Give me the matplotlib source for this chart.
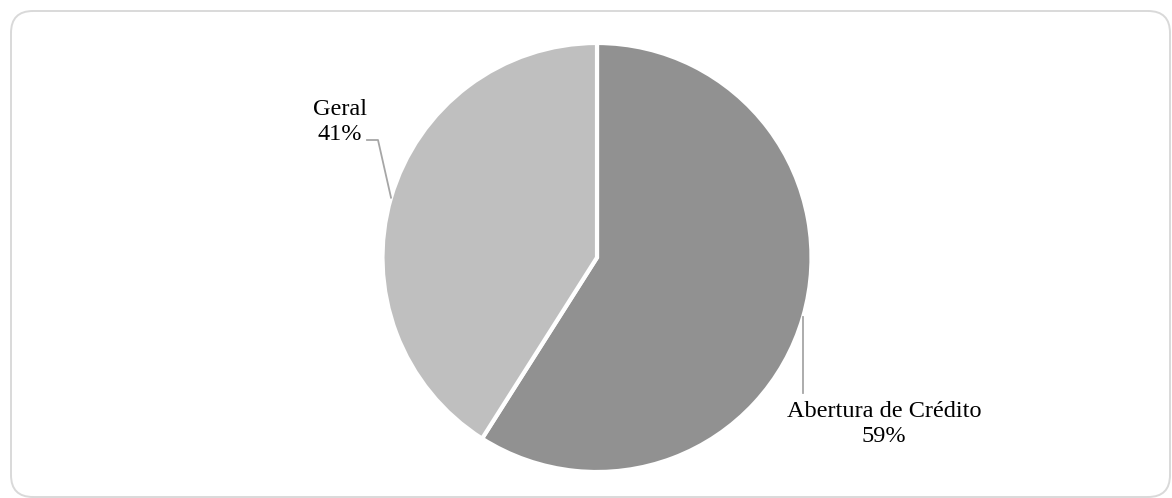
import numpy as np
import matplotlib.pyplot as plt
from matplotlib.patches import FancyBboxPatch

labels = ['Abertura de Crédito', 'Geral']
shares = [59, 41]
colors = ['#919191', '#bfbfbf']

W, H = 1172, 498
plt.rcParams['font.family'] = ['Liberation Serif', 'DejaVu Serif']

fig = plt.figure(figsize=(W / 100, H / 100), dpi=100)
ax = fig.add_axes([0, 0, 1, 1])

# rounded frame
frame = FancyBboxPatch((11, 1), 1159, 486, boxstyle='round,pad=0,rounding_size=22',
                       fc='none', ec='#d9d9d9', lw=1.4)
ax.add_patch(frame)

cx, cy, r = 597, 240.5, 214.5
wedges, _ = ax.pie(shares, colors=colors, startangle=90, counterclock=False,
                   center=(cx, cy), radius=r, frame=True,
                   wedgeprops=dict(edgecolor='white', linewidth=3))
ax.set_xlim(0, W)
ax.set_ylim(0, H)
ax.set_aspect('equal')
ax.axis('off')

# leader lines from wedge midpoints, then labels
lead = '#a6a6a6'
for w, lab, val in zip(wedges, labels, shares):
    mid = np.deg2rad((w.theta1 + w.theta2) / 2)
    x0, y0 = cx + r * np.cos(mid), cy + r * np.sin(mid)
    text = f'{lab}\n{val}%'
    if np.cos(mid) > 0:
        ax.plot([x0, x0], [y0, 105], color=lead, lw=1.3)
        ax.text(884, 74, text, ha='center', va='center', fontsize=17.5)
    else:
        ax.plot([x0, 378, 367], [y0, 358, 358], color=lead, lw=1.3)
        ax.text(340, 376, text, ha='center', va='center', fontsize=17.5)

fig.savefig('out.png', dpi=100)
